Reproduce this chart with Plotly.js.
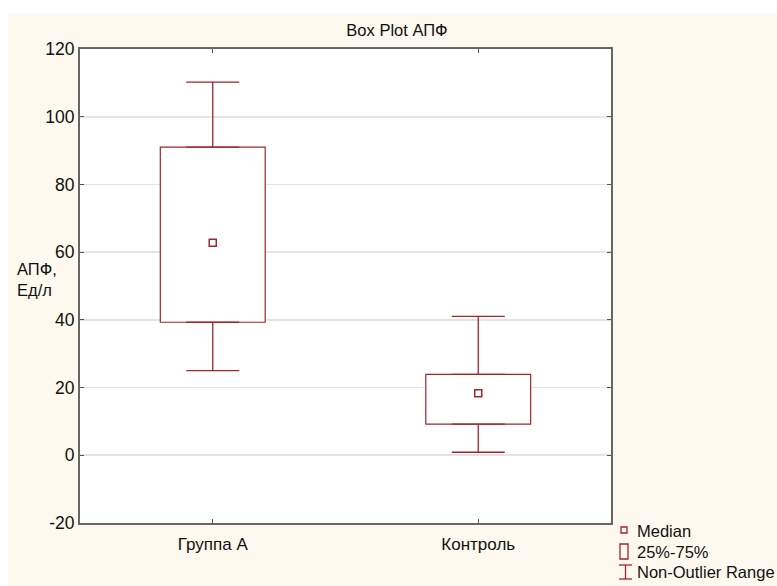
<!DOCTYPE html>
<html>
<head>
<meta charset="utf-8">
<script src="https://cdn.plot.ly/plotly-3.0.1.min.js"></script>
<style>
  html, body { margin: 0; padding: 0; background: #ffffff; }
  #chart { position: absolute; left: 8px; top: 14px; width: 769px; height: 572px; }
</style>
</head>
<body>
<div id="chart"></div>
<script>
// ---- data ----
const categories = ['Группа А', 'Контроль'];
const lowerWhisker = [25, 0.9];
const q1 = [39.3, 9.2];
const median = [62.8, 18.3];
const q3 = [91, 23.9];
const upperWhisker = [110.2, 41];
const yTickValues = [-20, 0, 20, 40, 60, 80, 100, 120];
const legendLabels = ['Median', '25%-75%', 'Non-Outlier Range'];

const RED = '#a0262a';
const FONT = 'Arial, "Liberation Sans", sans-serif';

const boxHeight = q3.map((v, i) => v - q1[i]);
const upLen = upperWhisker.map((v, i) => v - q3[i]);
const downLen = q1.map((v, i) => v - lowerWhisker[i]);
const zeros = categories.map(() => 0);

const traces = [
  {
    type: 'bar', x: categories, y: boxHeight, base: q1, width: 0.395,
    marker: { color: '#ffffff', line: { color: RED, width: 1.2 } },
    showlegend: false, hoverinfo: 'skip'
  },
  {
    type: 'scatter', mode: 'markers', x: categories, y: q3,
    marker: { size: 1, color: 'rgba(0,0,0,0)' },
    error_y: { type: 'data', symmetric: false, array: upLen, arrayminus: zeros,
               width: 26.5, thickness: 1.3, color: RED },
    showlegend: false, hoverinfo: 'skip'
  },
  {
    type: 'scatter', mode: 'markers', x: categories, y: q1,
    marker: { size: 1, color: 'rgba(0,0,0,0)' },
    error_y: { type: 'data', symmetric: false, array: zeros, arrayminus: downLen,
               width: 26.5, thickness: 1.3, color: RED },
    showlegend: false, hoverinfo: 'skip'
  },
  {
    type: 'scatter', mode: 'markers', x: categories, y: median,
    marker: { symbol: 'square-open', size: 7, color: RED, line: { color: RED, width: 1.5 } },
    showlegend: false, hoverinfo: 'skip'
  }
];

// plot area: x 80..611, y 49..523 in page pixels
function px2x(px) { return (px - 80) / 531; }
function py2y(py) { return (523 - py) / 474; }

const legendY = [531, 552, 572];
const annotations = legendLabels.map((t, i) => ({
  text: t, xref: 'paper', yref: 'paper', x: px2x(635), y: py2y(legendY[i]),
  xanchor: 'left', yanchor: 'middle', showarrow: false,
  font: { family: FONT, size: 16.5, color: '#111111' }
}));
annotations.push({
  text: 'АПФ,<br>Ед/л', xref: 'paper', yref: 'paper', x: px2x(15), y: py2y(279),
  xanchor: 'left', yanchor: 'middle', align: 'left', showarrow: false,
  font: { family: FONT, size: 16.5, color: '#111111' }
});

const legendShapes = [
  { type: 'rect', xref: 'paper', yref: 'paper', x0: px2x(621), x1: px2x(627), y0: py2y(533), y1: py2y(527),
    line: { color: RED, width: 1.3 }, fillcolor: 'rgba(0,0,0,0)' },
  { type: 'rect', xref: 'paper', yref: 'paper', x0: px2x(620), x1: px2x(628), y0: py2y(559), y1: py2y(544),
    line: { color: RED, width: 1.3 }, fillcolor: 'rgba(0,0,0,0)' },
  { type: 'line', xref: 'paper', yref: 'paper', x0: px2x(619), x1: px2x(632), y0: py2y(565), y1: py2y(565),
    line: { color: RED, width: 1.3 } },
  { type: 'line', xref: 'paper', yref: 'paper', x0: px2x(619), x1: px2x(632), y0: py2y(579), y1: py2y(579),
    line: { color: RED, width: 1.3 } },
  { type: 'line', xref: 'paper', yref: 'paper', x0: px2x(625.5), x1: px2x(625.5), y0: py2y(565), y1: py2y(579),
    line: { color: RED, width: 1.3 } }
];

const layout = {
  width: 769, height: 572,
  margin: { l: 72, r: 166, t: 35, b: 63, pad: 0 },
  paper_bgcolor: '#fef9ee',
  plot_bgcolor: '#ffffff',
  font: { family: FONT, size: 16, color: '#111111' },
  title: {
    text: 'Box Plot АПФ', font: { family: FONT, size: 16.5, color: '#111111' },
    xref: 'paper', x: px2x(397), xanchor: 'center',
    yref: 'container', y: 1 - 16 / 572, yanchor: 'middle'
  },
  showlegend: false,
  bargap: 0,
  xaxis: {
    type: 'category', range: [-0.5, 1.5], showgrid: false, zeroline: false,
    showline: true, linecolor: '#666666', linewidth: 2, mirror: 'ticks',
    ticks: 'inside', ticklen: 4, tickwidth: 1, tickcolor: '#555555',
    ticklabelstandoff: 5,
    tickfont: { family: FONT, size: 17, color: '#111111' }
  },
  yaxis: {
    range: [-20, 120], tickvals: yTickValues, ticktext: yTickValues.map(String),
    showgrid: true, gridcolor: '#e4e4e4', gridwidth: 1.6, zeroline: false,
    showline: true, linecolor: '#666666', linewidth: 2, mirror: 'ticks',
    ticks: 'inside', ticklen: 4, tickwidth: 1, tickcolor: '#555555',
    tickfont: { family: FONT, size: 17.5, color: '#111111' }
  },
  annotations: annotations,
  shapes: legendShapes
};

Plotly.newPlot('chart', traces, layout, { staticPlot: true, displayModeBar: false });
</script>
</body>
</html>
